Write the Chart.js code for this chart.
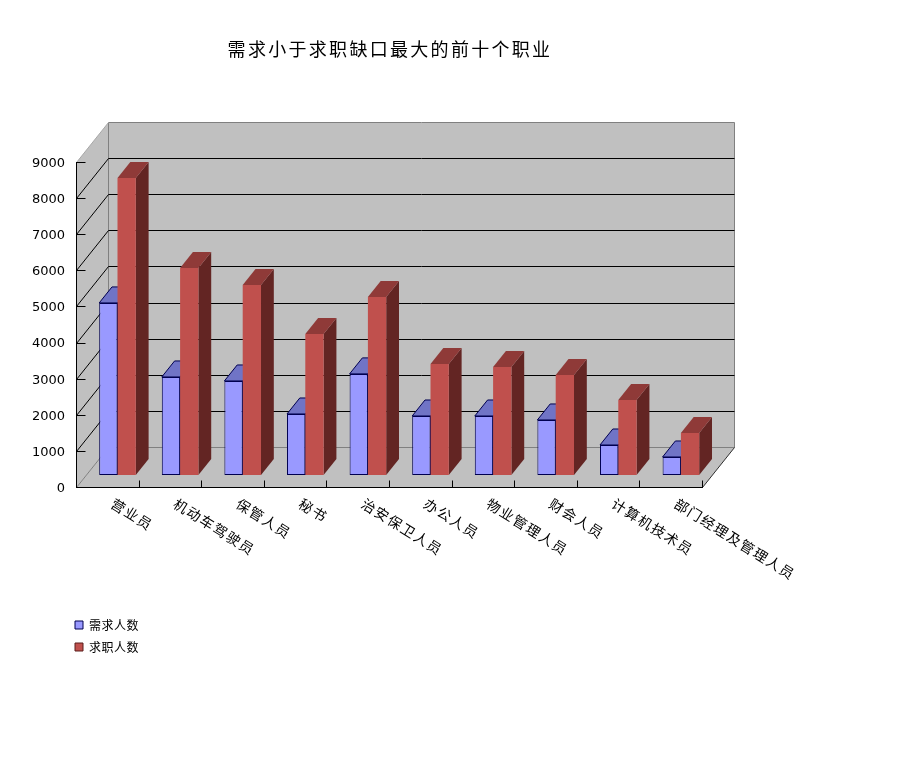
<!DOCTYPE html>
<html><head><meta charset="utf-8">
<style>html,body{margin:0;padding:0;background:#fff}canvas{display:block}</style>
<script src="https://cdn.jsdelivr.net/npm/chart.js@4"></script>
</head><body>
<canvas id="c" width="913" height="761"></canvas>
<script>
const titleText = '需求小于求职缺口最大的前十个职业';
const categories = ['营业员','机动车驾驶员','保管人员','秘书','治安保卫人员','办公人员','物业管理人员','财会人员','计算机技术员','部门经理及管理人员'];
const demandName = '需求人数';
const seekerName = '求职人数';
const demand = [4765,2715,2604,1690,2800,1634,1634,1524,831,499];
const seekers = [8227,5734,5263,3906,4931,3075,2992,2770,2078,1163];

const WALL = {dx:32, dy:-40};
const PLANE = {dx:10.2, dy:-12};
const DEPTH = {dx:12.8, dy:-16};
const CJK = '"Noto Sans CJK SC"';

function poly(ctx, pts, fill, stroke){
  ctx.beginPath();
  pts.forEach((p,i)=> i?ctx.lineTo(p[0],p[1]):ctx.moveTo(p[0],p[1]));
  ctx.closePath();
  if(fill){ctx.fillStyle=fill;ctx.fill();}
  if(stroke){ctx.strokeStyle=stroke;ctx.lineWidth=1;ctx.stroke();}
}
function seg(ctx,x1,y1,x2,y2,color){
  ctx.beginPath();ctx.moveTo(x1,y1);ctx.lineTo(x2,y2);ctx.strokeStyle=color;ctx.lineWidth=1;ctx.stroke();
}
function spaced(obj,method,px,shiftY){
  if(obj['_sp_'+method]) return;
  obj['_sp_'+method]=true;
  const orig=obj[method];
  obj[method]=function(...a){
    const ctx=this.ctx;
    ctx.save();
    ctx.letterSpacing=px;
    if(shiftY) ctx.translate(0,shiftY);
    orig.apply(this,a);
    ctx.restore();
  };
}
const sideStyles = [
  {top:'#7074c6', side:'#5a5ea8', stroke:'#000050'},
  {top:'#8f3a38', side:'#632523', stroke:null}
];
const depthPlugin = {
  id:'depth',
  afterLayout(chart){
    const t = chart.titleBlock; t.left = 0; t.right = 780;
    spaced(t,'draw','2.3px');
    const l = chart.legend; const w = l.width, h = l.height;
    l.left = 65; l.top = 609; l.right = l.left + w; l.bottom = l.top + h;
    spaced(l,'draw','0.5px');
    spaced(chart.scales.x,'drawLabels','1.5px');
    spaced(chart.scales.y,'drawLabels','0px',1.5);
  },
  beforeDraw(chart){
    const ctx = chart.ctx, {x, y} = chart.scales;
    ctx.save();
    ctx.fillStyle='#fff';ctx.fillRect(0,0,chart.width,chart.height);
    const L=Math.round(x.left)+.5, R=Math.round(x.right)+.5, T=Math.round(y.top)+.5, B=Math.round(y.bottom)+.5;
    const d=WALL;
    const gray='#c0c0c0', edge='#808080';
    poly(ctx,[[L,T],[L+d.dx,T+d.dy],[L+d.dx,B+d.dy],[L,B]],gray,null);
    poly(ctx,[[L+d.dx,T+d.dy],[R+d.dx,T+d.dy],[R+d.dx,B+d.dy],[L+d.dx,B+d.dy]],gray,edge);
    poly(ctx,[[L,B],[L+d.dx,B+d.dy],[R+d.dx,B+d.dy],[R,B]],gray,null);
    seg(ctx,L,T,L+d.dx,T+d.dy,'#a8a8a8');
    seg(ctx,L,B,L+d.dx,B+d.dy,edge);
    seg(ctx,L+d.dx,B+d.dy,R+d.dx,B+d.dy,edge);
    y.ticks.forEach(tk=>{
      const py=Math.round(y.getPixelForValue(tk.value))+.5;
      if(tk.value>0 && tk.value<y.max){
        seg(ctx,L,py,L+d.dx,py+d.dy,'#000');
        seg(ctx,L+d.dx,py+d.dy,R+d.dx,py+d.dy,'#000');
      }
      if(tk.value>0) seg(ctx,L,py,L+9,py,'#000');
    });
    const n=categories.length, step=(x.right-x.left)/n;
    for(let i=1;i<=n;i++){
      const px=Math.round(x.left+step*i)+.5;
      seg(ctx,px,B,px,B-7,'#000');
    }
    seg(ctx,R,B,R+d.dx,B+d.dy,'#303030');
    ctx.restore();
  },
  beforeDatasetsDraw(chart){
    const ctx=chart.ctx;
    ctx.save();
    ctx.translate(PLANE.dx,PLANE.dy);
    chart.data.datasets.forEach((ds,di)=>{
      const st=sideStyles[di];
      chart.getDatasetMeta(di).data.forEach(el=>{
        const w=el.width, l=el.x-w/2, r=el.x+w/2, t=el.y, b=el.base;
        const q=DEPTH;
        poly(ctx,[[r,t],[r+q.dx,t+q.dy],[r+q.dx,b+q.dy],[r,b]],st.side,st.stroke);
        poly(ctx,[[l,t],[r,t],[r+q.dx,t+q.dy],[l+q.dx,t+q.dy]],st.top,st.stroke);
      });
    });
  },
  afterDatasetsDraw(chart){ chart.ctx.restore(); }
};

new Chart(document.getElementById('c'),{
  type:'bar',
  data:{labels:categories,datasets:[
    {label:demandName,data:demand,backgroundColor:'#9999ff',borderColor:'#000050',borderWidth:1,borderSkipped:false,clip:false},
    {label:seekerName,data:seekers,backgroundColor:'#c0504d',borderWidth:0,clip:false}
  ]},
  plugins:[depthPlugin],
  options:{
    responsive:false,animation:false,devicePixelRatio:1,
    layout:{padding:{left:0,top:0,right:211,bottom:0}},
    datasets:{bar:{categoryPercentage:0.585,barPercentage:1}},
    plugins:{
      title:{display:true,text:titleText,color:'#000',align:'center',position:'top',
        font:{family:CJK,size:18,weight:'normal',lineHeight:1.2},padding:{top:38,bottom:102.4}},
      legend:{display:true,position:'chartArea',align:'start',
        labels:{boxWidth:8,boxHeight:8,padding:10,color:'#000',font:{family:CJK,size:12},
          generateLabels(chart){
            return Chart.defaults.plugins.legend.labels.generateLabels(chart).map(it=>{it.lineWidth=1;it.strokeStyle=it.datasetIndex===0?'#000050':'#5a1f1d';return it;});
          }}},
      tooltip:{enabled:false}
    },
    scales:{
      x:{type:'category',
        beforeUpdate(s){s._getXAxisLabelAlignment=()=>'left';},
        afterFit(s){s.height=274;},
        grid:{display:false,drawTicks:false},
        border:{display:true,color:'#000',width:1},
        ticks:{autoSkip:false,minRotation:-32,maxRotation:-32,padding:8,labelOffset:5,color:'#000',font:{family:CJK,size:14}}},
      y:{min:0,max:9000,
        afterFit(s){s.width=76;},
        grid:{display:false,drawTicks:false},
        border:{display:true,color:'#000',width:1},
        ticks:{stepSize:1000,padding:11,color:'#000',font:{family:'"DejaVu Sans"',size:13},callback:v=>String(v)}}
    }
  }
});
</script>
</body></html>
